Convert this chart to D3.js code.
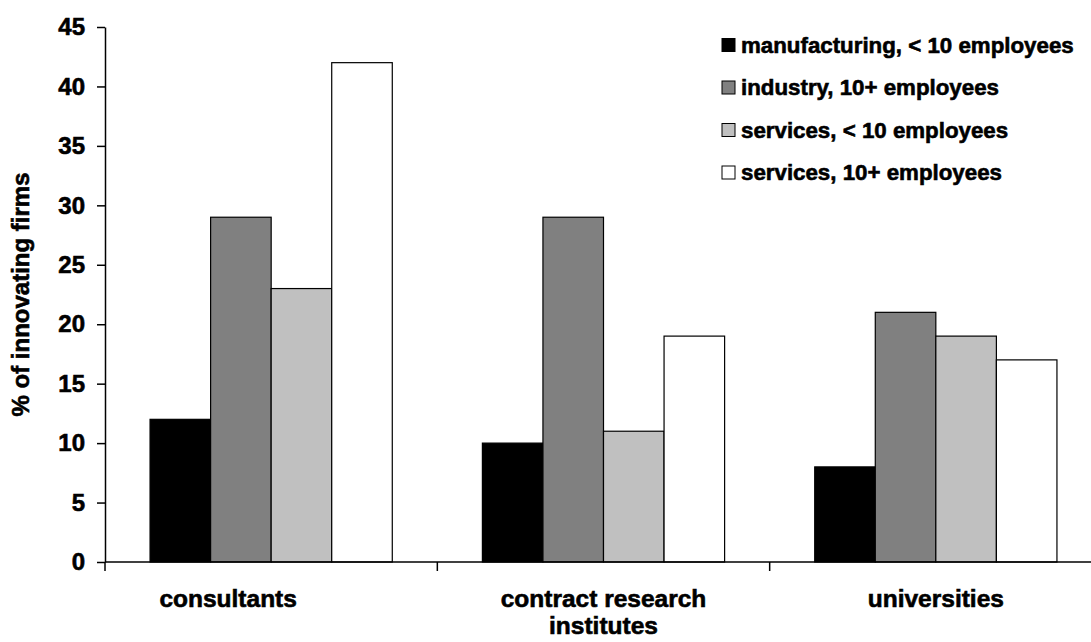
<!DOCTYPE html>
<html>
<head>
<meta charset="utf-8">
<script src="https://cdn.jsdelivr.net/npm/d3@7"></script>
<style>
  html, body { margin: 0; padding: 0; background: #fff; }
  svg { display: block; }
  text { font-family: "Liberation Sans", Arial, sans-serif; font-weight: bold; fill: #000; stroke: #000; stroke-width: 0.6px; }
</style>
</head>
<body>
<svg id="chart" width="1091" height="642"></svg>
<script>
// Sources of innovation co-operation, by firm type
const categories = ["consultants", "contract research institutes", "universities"];
const categoryLines = [["consultants"], ["contract research", "institutes"], ["universities"]];
const labelShift = [-43, 0, 0];

const seriesNames = [
  "manufacturing, < 10 employees",
  "industry, 10+ employees",
  "services, < 10 employees",
  "services, 10+ employees"
];
const seriesColors = ["#000000", "#808080", "#c0c0c0", "#ffffff"];

const manufacturingSmall = [12, 10, 8];
const industryLarge = [29, 29, 21];
const servicesSmall = [23, 11, 19];
const servicesLarge = [42, 19, 17];
const seriesValues = [manufacturingSmall, industryLarge, servicesSmall, servicesLarge];

const yTicks = [0, 5, 10, 15, 20, 25, 30, 35, 40, 45];
const yTitle = "% of innovating firms";

const svg = d3.select("#chart");

const plotLeft = 105, plotRight = 1102, plotTop = 27, plotBottom = 562;

const x = d3.scaleBand().domain(categories).range([plotLeft, plotRight]).paddingInner(0).paddingOuter(0);
const xs = d3.scaleBand().domain(seriesNames).range([0, x.bandwidth()]).paddingInner(0).paddingOuter(0.744);
const y = d3.scaleLinear().domain([0, 45]).range([plotBottom, plotTop]);

// bars
const groups = svg.append("g").selectAll("g")
  .data(categories)
  .join("g")
  .attr("transform", d => `translate(${x(d)},0)`);

groups.selectAll("rect")
  .data((c, ci) => seriesNames.map((s, si) => ({ s, si, v: seriesValues[si][ci] })))
  .join("rect")
  .attr("x", d => xs(d.s))
  .attr("y", d => y(d.v))
  .attr("width", xs.bandwidth())
  .attr("height", d => y(0) - y(d.v))
  .attr("fill", d => seriesColors[d.si])
  .attr("stroke", "#000")
  .attr("stroke-width", 1.2);

// y axis
const yAxis = svg.append("g")
  .attr("transform", `translate(${plotLeft},0)`)
  .call(d3.axisLeft(y).tickValues(yTicks).tickSize(8).tickPadding(12).tickSizeOuter(0));
yAxis.select(".domain").attr("stroke", "#000").attr("stroke-width", 1.5);
yAxis.selectAll(".tick line").attr("stroke", "#000").attr("stroke-width", 1.5);
yAxis.selectAll(".tick text")
  .style("font-size", "24px")
  .style("font-family", "'Liberation Sans', Arial, sans-serif")
  .style("font-weight", "bold")
  .attr("fill", "#000");

// x axis: baseline with tick marks at the group boundaries
const xAxis = svg.append("g");
xAxis.append("line")
  .attr("x1", plotLeft).attr("x2", plotRight)
  .attr("y1", y(0)).attr("y2", y(0))
  .attr("stroke", "#000").attr("stroke-width", 1.5);
xAxis.selectAll("line.tick")
  .data(categories.map(c => x(c)).concat([plotRight]))
  .join("line")
  .attr("class", "tick")
  .attr("x1", d => d).attr("x2", d => d)
  .attr("y1", y(0)).attr("y2", y(0) + 9)
  .attr("stroke", "#000").attr("stroke-width", 1.5);

// category labels
categories.forEach((c, i) => {
  const cx = x(c) + x.bandwidth() / 2 + labelShift[i];
  const t = svg.append("text")
    .attr("x", cx)
    .attr("y", 607)
    .attr("text-anchor", "middle")
    .style("font-size", "24.5px");
  categoryLines[i].forEach((ln, li) => {
    t.append("tspan")
      .attr("x", cx)
      .attr("dy", li === 0 ? 0 : 27)
      .text(ln);
  });
});

// y axis title
svg.append("text")
  .attr("transform", `translate(29,${(plotTop + plotBottom) / 2}) rotate(-90)`)
  .attr("text-anchor", "middle")
  .style("font-size", "24px")
  .text(yTitle);

// legend
const legend = svg.append("g").attr("transform", "translate(722,45)");
const item = legend.selectAll("g")
  .data(seriesNames)
  .join("g")
  .attr("transform", (d, i) => `translate(0,${i * 42.5})`);
item.append("rect")
  .attr("x", 0).attr("y", -6.5)
  .attr("width", 13).attr("height", 13)
  .attr("fill", (d, i) => seriesColors[i])
  .attr("stroke", "#000").attr("stroke-width", 1);
item.append("text")
  .attr("x", 19).attr("y", 7.5)
  .style("font-size", "22.3px")
  .text(d => d);
</script>
</body>
</html>
